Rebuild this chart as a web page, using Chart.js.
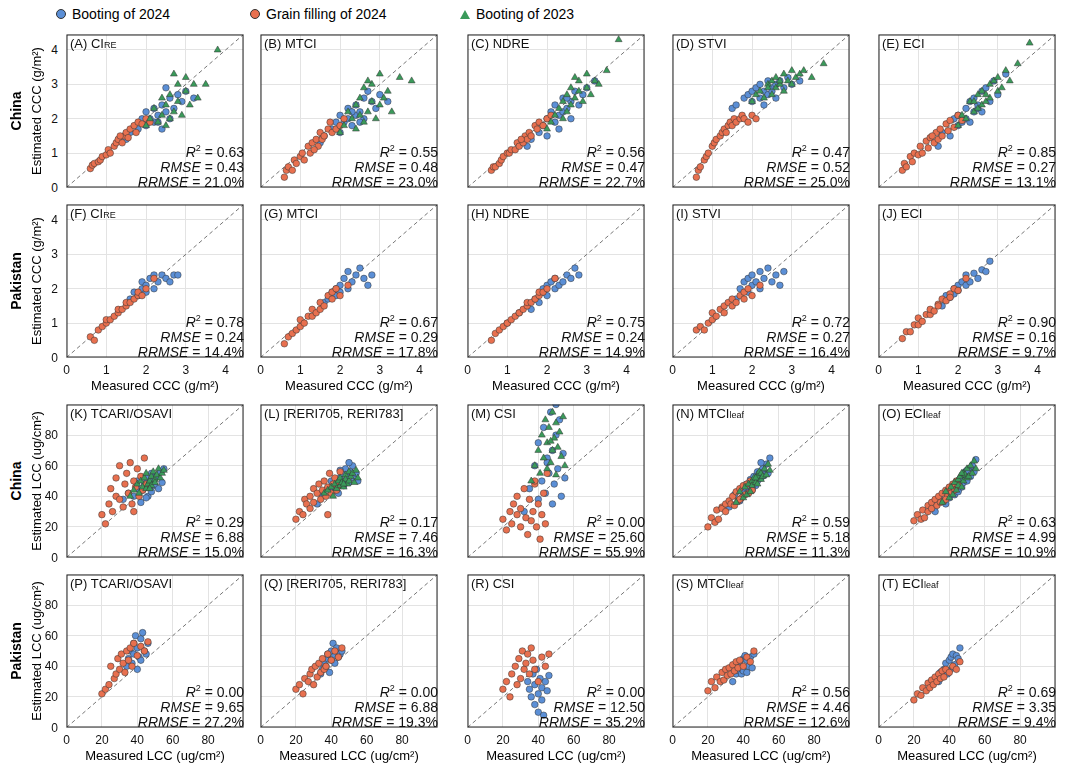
<!DOCTYPE html>
<html>
<head>
<meta charset="utf-8">
<script src="https://cdn.jsdelivr.net/npm/chart.js@4"></script>
<style>
	body { margin: 0; width: 1080px; height: 763px; background: #fff; font-family: "Liberation Sans", Arial, sans-serif; position: relative; overflow: hidden; }
	canvas.p { position: absolute; }
	.lbl { position: absolute; font-size: 13px; color: #111; white-space: nowrap; }
	.lbl small { font-size: 9px; }
	.stats { position: absolute; font-size: 14px; line-height: 15px; text-align: right; color: #111; white-space: nowrap; }
	.stats sup { font-size: 9px; line-height: 0; }
	.rot { position: absolute; transform: translate(-50%, -50%) rotate(-90deg); white-space: nowrap; font-size: 13px; }
	.xt { position: absolute; transform: translateX(-50%); font-size: 13px; white-space: nowrap; }
	.yt { position: absolute; transform: translate(-100%, -50%); font-size: 12px; color: #111; }
	.xk { position: absolute; transform: translateX(-50%); font-size: 12px; color: #111; }
	.leg { position: absolute; top: 6px; font-size: 14px; display: flex; align-items: center; gap: 6px; }
	.dot { width: 8px; height: 8px; border-radius: 50%; border: 0.5px solid #333; }
</style>
</head>
<body>
<div class="leg" style="left:56px"><span class="dot" style="background:#5b8fd6"></span>Booting of 2024</div>
<div class="leg" style="left:250px"><span class="dot" style="background:#e8704f"></span>Grain filling of 2024</div>
<div class="leg" style="left:460px"><span style="width:0;height:0;border-left:5px solid transparent;border-right:5px solid transparent;border-bottom:9px solid #3a9a5a"></span>Booting of 2023</div>
<script>
// measured values (shared across indices)
const cnCccOrangeX = [0.6,0.65,0.7,0.8,0.85,0.9,1.0,1.05,1.1,1.2,1.25,1.3,1.4,1.45,1.5,1.55,1.6,1.7,1.75,1.8,1.9,2.0,2.1,1.35];
const cnCccBlueX = [1.5,1.6,1.8,1.9,2.0,2.0,2.1,2.2,2.2,2.3,2.4,2.4,2.5,2.6,2.6,2.7,2.8,2.9,3.0,2.3,2.5,3.2];
const cnCccGreenX = [2.0,2.1,2.2,2.3,2.4,2.4,2.5,2.5,2.6,2.6,2.7,2.8,2.8,2.9,3.0,3.0,3.1,3.2,3.3,3.5,2.7,3.8];
const pkCccOrangeX = [0.6,0.7,0.8,0.9,1.0,1.0,1.1,1.2,1.3,1.3,1.4,1.5,1.5,1.6,1.7,1.8,1.8,1.9,2.0,2.2];
const pkCccBlueX = [1.6,1.7,1.8,1.9,1.9,2.0,2.0,2.1,2.2,2.2,2.3,2.4,2.5,2.6,2.7,2.8];
const cnLccOrangeX = [20,22,24,25,26,28,28,30,30,32,33,34,35,36,37,38,39,40,41,42,43,44,45,38];
const cnLccBlueX = [32,35,38,40,40,42,43,44,45,46,47,48,48,49,50,51,52,53,54,55,45,50];
const cnLccGreenX = [36,38,40,41,42,43,44,45,45,46,47,48,48,49,50,50,51,52,53,54,55,47];
const pkLccOrangeX = [20,22,24,25,27,28,29,30,31,32,33,34,35,36,37,38,40,42,44,46];
const pkLccBlueX = [34,35,36,37,38,38,39,40,40,41,42,42,43,44,45,46];

// estimated values per panel
const aO = [0.55,0.65,0.7,0.75,0.8,0.9,0.95,1.1,1.0,1.2,1.3,1.4,1.3,1.5,1.6,1.45,1.7,1.8,1.6,1.9,1.85,2.0,1.9,1.5];
const aB = [1.4,1.6,1.7,2.0,1.8,2.2,2.0,1.9,2.3,2.1,2.4,1.7,2.2,2.6,2.0,2.3,2.7,2.5,2.8,1.9,2.9,2.6];
const aG = [1.8,2.0,2.3,1.9,2.1,2.6,1.8,2.4,2.0,2.7,2.2,2.5,3.0,2.1,2.8,3.2,2.4,3.0,2.6,3.0,3.3,4.0];
const bO = [0.3,0.5,0.6,0.5,0.8,0.7,0.9,1.0,0.8,1.2,1.0,1.3,1.4,1.2,1.6,1.4,1.5,1.7,1.9,1.6,1.7,1.8,2.0,1.1];
const bB = [1.3,1.5,1.7,1.9,1.6,2.1,1.9,2.0,2.3,1.8,2.4,2.1,2.2,2.6,2.0,2.8,2.5,2.3,2.7,2.2,1.9,2.5];
const bG = [1.6,1.8,2.2,2.0,1.7,2.4,2.1,2.6,1.9,2.9,2.2,2.5,3.0,2.0,2.4,3.3,2.6,2.8,2.2,3.2,3.1,3.1];
const cO = [0.5,0.6,0.6,0.7,0.8,0.9,1.0,1.0,1.1,1.1,1.3,1.2,1.3,1.5,1.4,1.6,1.5,1.8,1.7,1.9,1.8,2.0,2.1,1.4];
const cB = [1.2,1.4,1.6,1.8,1.5,2.0,2.2,1.9,2.4,2.1,2.2,2.6,2.3,2.5,2.0,2.8,2.4,2.7,2.9,1.7,2.6,3.1];
const cG = [1.7,1.9,2.1,2.3,2.0,2.5,2.2,2.7,2.4,2.9,2.6,2.8,3.1,2.5,2.9,3.3,2.7,3.1,3.0,3.4,3.2,4.3];
const dO = [0.3,0.5,0.6,0.8,0.9,1.0,1.2,1.3,1.4,1.5,1.6,1.7,1.8,1.9,1.8,2.0,1.9,2.0,2.1,2.0,1.9,2.1,2.0,1.6];
const dB = [2.3,2.4,2.6,2.7,2.5,2.8,2.9,2.6,3.0,2.8,2.7,3.1,2.9,3.0,2.6,3.1,2.9,3.2,3.0,2.4,2.8,3.1];
const dG = [2.5,2.7,2.8,2.6,3.0,2.9,3.1,2.7,3.2,2.9,3.0,3.3,2.8,3.1,3.4,3.0,3.2,3.3,3.4,3.2,3.1,3.6];
const eO = [0.5,0.7,0.6,0.9,0.75,1.0,0.95,1.2,1.0,1.35,1.15,1.45,1.3,1.6,1.4,1.7,1.5,1.85,1.65,1.95,1.75,2.1,1.95,1.5];
const eB = [1.2,1.6,1.5,2.0,1.8,2.1,1.9,2.3,2.0,2.5,2.2,2.6,2.3,2.8,2.2,2.9,2.5,3.1,2.7,1.9,2.4,3.3];
const eG = [1.8,2.1,2.0,2.5,2.2,2.5,2.3,2.7,2.4,2.8,2.5,3.0,2.6,3.1,2.8,3.2,2.9,3.4,3.1,3.6,2.7,4.2];
const fO = [0.6,0.5,0.8,0.9,1.0,1.1,1.1,1.2,1.3,1.4,1.4,1.5,1.6,1.6,1.7,1.8,1.9,1.8,2.0,2.3];
const fB = [1.7,1.9,1.8,2.0,2.2,1.9,2.1,2.3,2.0,2.4,2.2,2.4,2.3,2.2,2.4,2.4];
const gO = [0.4,0.6,0.7,0.8,0.9,1.1,1.0,1.2,1.2,1.4,1.3,1.6,1.4,1.5,1.8,1.7,1.9,2.0,1.8,2.1];
const gB = [1.6,1.7,1.9,1.8,2.0,2.1,1.9,2.3,2.0,2.5,2.2,2.4,2.6,2.3,2.1,2.4];
const hO = [0.5,0.7,0.8,0.9,1.0,1.0,1.1,1.2,1.3,1.3,1.4,1.5,1.6,1.6,1.7,1.8,1.9,1.9,2.0,2.3];
const hB = [1.4,1.7,1.6,1.9,2.0,1.8,2.1,2.2,2.0,2.3,2.1,2.2,2.4,2.3,2.6,2.4];
const iO = [0.8,0.9,0.8,1.0,1.1,1.3,1.2,1.4,1.3,1.5,1.6,1.5,1.7,1.6,1.8,1.7,1.9,2.0,1.8,2.1];
const iB = [1.7,2.0,2.2,1.9,2.3,2.1,2.4,2.2,2.5,2.0,2.3,2.6,2.2,2.4,2.1,2.5];
const jO = [0.55,0.75,0.75,0.95,0.95,1.15,1.05,1.25,1.25,1.4,1.35,1.55,1.5,1.7,1.65,1.85,1.75,2.0,1.95,2.3];
const jB = [1.5,1.8,1.75,2.0,1.85,2.1,1.95,2.2,2.1,2.4,2.2,2.45,2.3,2.55,2.5,2.8];
const kO = [28,22,35,45,30,40,52,38,60,33,48,55,42,62,35,50,46,58,40,53,44,65,48,30];
const kB = [38,42,40,45,50,36,44,48,52,40,46,55,43,50,47,53,45,56,49,58,39,52];
const kG = [40,44,48,42,50,46,52,45,55,48,50,53,47,56,51,49,54,58,52,55,57,45];
const lO = [25,30,28,38,35,40,32,45,36,42,48,38,44,50,40,46,55,42,48,52,44,47,56,28];
const lB = [35,40,45,43,50,46,48,42,52,55,47,50,58,53,49,56,60,52,55,50,57,62];
const lG = [42,44,46,40,48,45,50,47,52,49,46,54,51,48,56,50,53,55,49,57,52,48];
const mO = [25,18,30,22,35,28,40,20,32,45,26,15,38,24,30,48,20,35,12,28,42,22,55,50];
const mB = [30,45,60,38,75,50,85,42,65,55,95,35,70,48,80,58,90,40,68,52,62,100];
const mG = [50,60,70,55,80,65,90,58,75,85,62,95,70,78,88,54,72,82,66,92,60,76];
const nO = [20,26,23,31,25,33,32,35,30,37,35,40,34,43,37,45,39,47,41,48,42,50,44,38];
const nB = [33,41,37,45,42,48,43,51,45,53,47,56,50,55,52,58,54,61,55,65,44,62];
const nG = [36,43,39,46,41,48,43,50,47,52,49,53,48,56,51,55,53,58,54,61,57,52];
const oO = [24,28,25,31,26,34,30,36,32,38,34,40,36,42,37,44,40,46,42,48,44,50,47,38];
const oB = [30,38,35,43,39,47,41,48,44,51,46,54,49,56,50,58,53,60,56,64,43,57];
const oG = [36,43,39,46,41,49,44,51,47,53,46,55,50,54,52,58,53,60,55,63,58,55];
const pO = [22,25,28,40,32,35,45,38,48,42,36,50,44,52,40,55,47,53,50,56];
const pB = [40,45,50,42,55,48,60,38,52,46,58,44,62,50,48,55];
const qO = [25,28,22,32,30,35,38,28,40,33,42,36,45,38,40,48,44,50,46,52];
const qB = [35,38,42,40,45,48,36,50,44,55,47,42,52,46,48,50];
const rO = [25,30,20,35,40,28,45,32,50,38,42,48,35,52,44,38,30,46,40,48];
const rB = [30,25,20,35,15,28,38,10,22,32,18,26,8,30,24,34];
const sO = [24,30,26,33,30,36,31,38,34,39,35,41,37,43,39,44,40,46,43,50];
const sB = [30,36,35,40,37,43,35,45,37,47,36,44,40,46,39,48];
const tO = [18,22,21,26,24,29,26,31,28,33,30,35,32,37,33,38,36,40,38,43];
const tB = [30,36,34,38,36,42,35,44,37,46,39,48,41,47,45,52];

const cccTicks = [0, 1, 2, 3, 4];
const lccTicks = [0, 20, 40, 60, 80];

const panelLabels = ['(A) CI<small>RE</small>','(B) MTCI','(C) NDRE','(D) STVI','(E) ECI',
	'(F) CI<small>RE</small>','(G) MTCI','(H) NDRE','(I) STVI','(J) ECI',
	'(K) TCARI/OSAVI','(L) [RERI705, RERI783]','(M) CSI','(N) MTCI<small>leaf</small>','(O) ECI<small>leaf</small>',
	'(P) TCARI/OSAVI','(Q) [RERI705, RERI783]','(R) CSI','(S) MTCI<small>leaf</small>','(T) ECI<small>leaf</small>'];
const r2 = ['0.63','0.55','0.56','0.47','0.85','0.78','0.67','0.75','0.72','0.90','0.29','0.17','0.00','0.59','0.63','0.00','0.00','0.00','0.56','0.69'];
const rmse = ['0.43','0.48','0.47','0.52','0.27','0.24','0.29','0.24','0.27','0.16','6.88','7.46','25.60','5.18','4.99','9.65','6.88','12.50','4.46','3.35'];
const rrmse = ['21.0%','23.0%','22.7%','25.0%','13.1%','14.4%','17.8%','14.9%','16.4%','9.7%','15.0%','16.3%','55.9%','11.3%','10.9%','27.2%','19.3%','35.2%','12.6%','9.4%'];
const estOrange = [aO,bO,cO,dO,eO,fO,gO,hO,iO,jO,kO,lO,mO,nO,oO,pO,qO,rO,sO,tO];
const estBlue = [aB,bB,cB,dB,eB,fB,gB,hB,iB,jB,kB,lB,mB,nB,oB,pB,qB,rB,sB,tB];
const estGreen = [aG,bG,cG,dG,eG,null,null,null,null,null,kG,lG,mG,nG,oG,null,null,null,null,null];

const colLeft = [62, 256, 463, 668, 874];
const rowTop = [30, 200, 400, 570];
const PW = 186, PH = 162;

const pts = (xs, ys) => xs.map((x, i) => ({ x, y: ys[i] }));

const frame = {
	id: 'frame',
	afterDraw(chart) {
		const { ctx, chartArea: a } = chart;
		ctx.save();
		ctx.strokeStyle = '#222';
		ctx.lineWidth = 1;
		ctx.strokeRect(a.left + 0.5, a.top + 0.5, a.right - a.left - 1, a.bottom - a.top - 1);
		ctx.restore();
	},
};

const addText = (cls, left, top, html, extra = '') => {
	const d = document.createElement('div');
	d.className = cls;
	d.style.cssText = `left:${left}px;top:${top}px;${extra}`;
	d.innerHTML = html;
	document.body.appendChild(d);
	return d;
};

for (let p = 0; p < 20; p++) {
	const row = Math.floor(p / 5), col = p % 5;
	const ccc = row < 2;
	const china = row % 2 === 0;
	const max = ccc ? 4.45 : 100;
	const ticks = ccc ? cccTicks : lccTicks;
	const xO = ccc ? (china ? cnCccOrangeX : pkCccOrangeX) : (china ? cnLccOrangeX : pkLccOrangeX);
	const xB = ccc ? (china ? cnCccBlueX : pkCccBlueX) : (china ? cnLccBlueX : pkLccBlueX);
	const xG = ccc ? cnCccGreenX : cnLccGreenX;
	const L = colLeft[col], T = rowTop[row];

	const cv = document.createElement('canvas');
	cv.className = 'p';
	cv.style.left = L + 'px';
	cv.style.top = T + 'px';
	cv.style.width = PW + 'px';
	cv.style.height = PH + 'px';
	cv.width = PW; cv.height = PH;
	document.body.appendChild(cv);

	const datasets = [
		{ type: 'line', data: [{ x: 0, y: 0 }, { x: max, y: max }], borderColor: '#777', borderWidth: 1, borderDash: [4, 3], pointRadius: 0, order: 5 },
		{ data: pts(xB, estBlue[p]), backgroundColor: '#5b8fd6', order: 3 },
		{ data: pts(xO, estOrange[p]), backgroundColor: '#e8704f', order: 2 },
	];
	if (estGreen[p]) datasets.push({ data: pts(xG, estGreen[p]), backgroundColor: '#3a9a5a', pointStyle: 'triangle', pointRadius: 4, order: 1 });

	const chart = new Chart(cv, {
		type: 'scatter',
		data: { datasets: datasets.map(d => ({ pointRadius: 3.3, borderColor: '#333', borderWidth: 0.5, ...d })) },
		options: {
			responsive: false, animation: false,
			layout: { padding: 0 },
			plugins: { legend: { display: false }, tooltip: { enabled: false } },
			scales: {
				x: { min: 0, max, ticks: { display: false, stepSize: ticks[1] }, grid: { color: '#e3e3e3', drawTicks: false }, border: { display: false }, afterFit: s => { s.height = 0; } },
				y: { min: 0, max, ticks: { display: false, stepSize: ticks[1] }, grid: { color: '#e3e3e3', drawTicks: false }, border: { display: false }, afterFit: s => { s.width = 0; } },
			},
		},
		plugins: [frame],
	});

	// tick labels placed from the chart's own scales
	if (col === 0) ticks.forEach(v => addText('yt', L - 4, T + chart.scales.y.getPixelForValue(v), v));
	if (!china) {
		ticks.forEach(v => addText('xk', L + chart.scales.x.getPixelForValue(v), T + PH + 1, v));
		addText('xt', L + PW / 2, T + PH + 16, ccc ? 'Measured CCC (g/m²)' : 'Measured LCC (ug/cm²)');
	}

	addText('lbl', L + 8, T + 6, panelLabels[p]);
	addText('stats', 0, 0,
		`<i>R</i><sup>2</sup> = ${r2[p]}<br><i>RMSE</i> = ${rmse[p]}<br><i>RRMSE</i> = ${rrmse[p]}`,
		`left:auto;top:auto;right:${1080 - L - PW + 4}px;bottom:${763 - T - PH + 2}px`);
}

const rowNames = ['China', 'Pakistan', 'China', 'Pakistan'];
rowTop.forEach((t, r) => {
	addText('rot', 16, t + PH / 2, rowNames[r], 'font-weight:bold;font-size:14px');
	addText('rot', 36, t + PH / 2, r < 2 ? 'Estimated CCC (g/m²)' : 'Estimated LCC (ug/cm²)');
});
</script>
</body>
</html>
